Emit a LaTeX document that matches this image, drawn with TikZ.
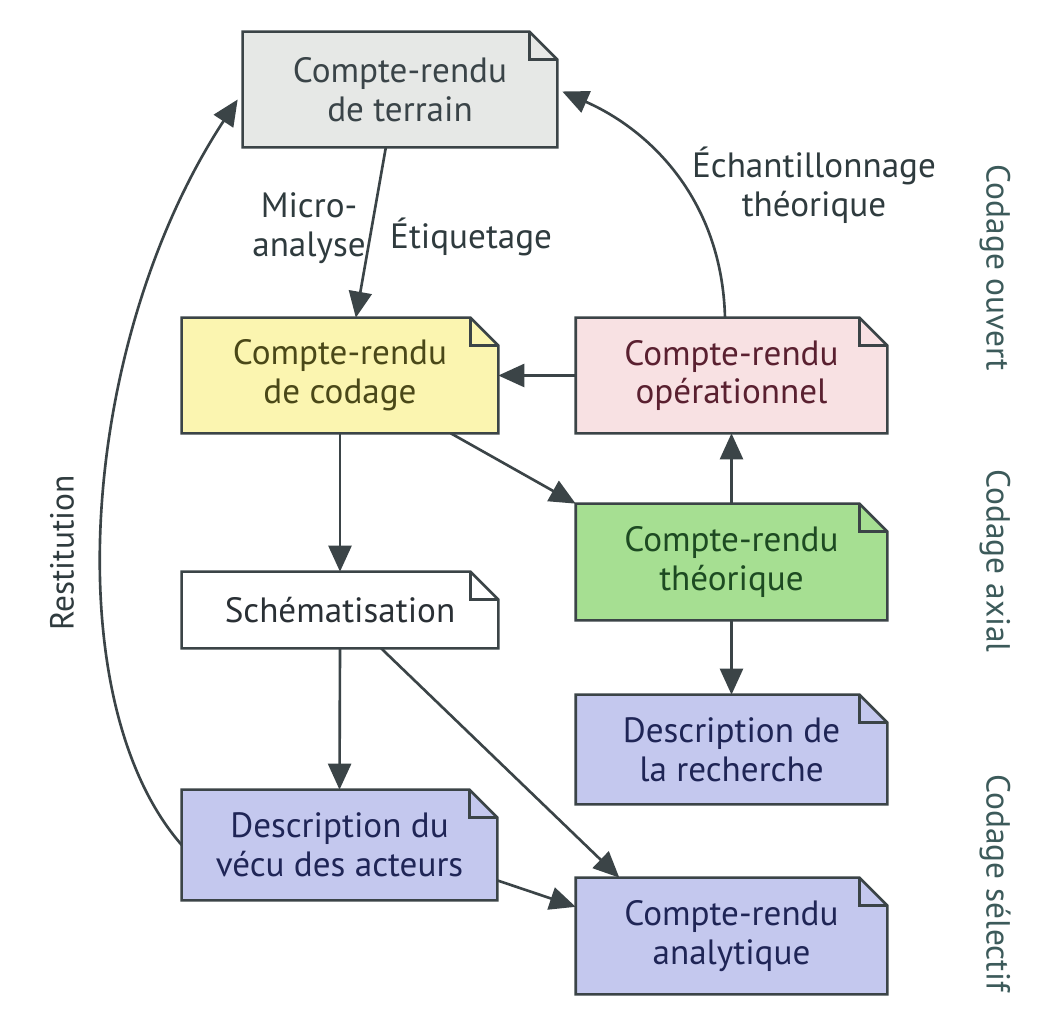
\documentclass[tikz,border=0pt]{standalone}
\usepackage{fontspec}
\setmainfont{PT Sans}
\usetikzlibrary{arrows.meta,calc}
\pgfdeclarelayer{background}
\pgfsetlayers{background,main}
\definecolor{linec}{HTML}{3B4447}
\definecolor{labc}{HTML}{2F3B3E}
\definecolor{sidec}{HTML}{3C5A5A}
\definecolor{terrfill}{HTML}{E6E8E6}
\definecolor{terrtext}{HTML}{3A4448}
\definecolor{codfill}{HTML}{FBF5B0}
\definecolor{codtext}{HTML}{4A4818}
\definecolor{opfill}{HTML}{F8E1E3}
\definecolor{optext}{HTML}{5A2030}
\definecolor{thfill}{HTML}{A6DF92}
\definecolor{thtext}{HTML}{1D4A22}
\definecolor{bluefill}{HTML}{C4C8EE}
\definecolor{bluetext}{HTML}{1F2556}
\definecolor{schtext}{HTML}{2A3035}
\newlength{\foldlen}
\setlength{\foldlen}{0.56cm}
\newcommand{\notebg}[2]{%
  \begin{pgfonlayer}{background}
  \draw[boxline,fill=#2] (#1.north west) -- ([xshift=-\foldlen]#1.north east) -- ([yshift=-\foldlen]#1.north east) -- (#1.south east) -- (#1.south west) -- cycle;
  \draw[boxline] ([xshift=-\foldlen]#1.north east) |- ([yshift=-\foldlen]#1.north east);
  \end{pgfonlayer}}
\tikzset{
  boxline/.style={draw=linec,line width=1.5pt,line join=miter},
  notebox/.style={inner sep=0pt,align=center,font=\fontsize{20}{22}\selectfont},
  conn/.style={draw=linec,line width=1.5pt,-{Triangle[length=0.52cm,width=0.46cm]}},
  lab/.style={text=labc,align=center,font=\fontsize{20}{22}\selectfont},
  side/.style={text=sidec,font=\fontsize{19}{22}\selectfont,rotate=-90},
}
\begin{document}
\begin{tikzpicture}[x=0.02cm,y=-0.02cm]
\useasboundingbox (0,0) rectangle (1046,1023);
\begin{pgfonlayer}{background}
\fill[white] (0,0) rectangle (1046,1023);
\end{pgfonlayer}
% boxes
\node[notebox,text=terrtext,minimum width=6.28cm,minimum height=2.30cm] (terrain) at (400,89.5) {Compte-rendu\\de terrain};
\node[notebox,text=codtext,minimum width=6.32cm,minimum height=2.30cm] (codage) at (340,375.5) {Compte-rendu\\de codage};
\node[notebox,text=optext,minimum width=6.22cm,minimum height=2.30cm] (oper) at (731.5,375.5) {Compte-rendu\\opérationnel};
\node[notebox,text=thtext,minimum width=6.22cm,minimum height=2.32cm] (theo) at (731.5,562) {Compte-rendu\\théorique};
\node[notebox,text=schtext,minimum width=6.32cm,minimum height=1.52cm] (schem) at (340,610) {Schématisation};
\node[notebox,text=bluetext,minimum width=6.22cm,minimum height=2.18cm] (rech) at (731.5,749.5) {Description de\\la recherche};
\node[notebox,text=bluetext,minimum width=6.30cm,minimum height=2.20cm] (vecu) at (339.5,845) {Description du\\vécu des acteurs};
\node[notebox,text=bluetext,minimum width=6.22cm,minimum height=2.32cm] (analy) at (731.5,936) {Compte-rendu\\analytique};
\notebg{terrain}{terrfill}
\notebg{codage}{codfill}
\notebg{oper}{opfill}
\notebg{theo}{thfill}
\notebg{schem}{white}
\notebg{rech}{bluefill}
\notebg{vecu}{bluefill}
\notebg{analy}{bluefill}
% connectors
\draw[conn] ($(terrain.south west)!0.455!(terrain.south east)$) -- ($(codage.north west)!0.55!(codage.north east)$);
\draw[conn] (oper.north -| 725,0) .. controls (722,200) and (650,130) .. ($(terrain.east)+(5,2)$);
\draw[conn] (oper.west) -- (codage.east);
\draw[conn] ($(codage.south west)!0.85!(codage.south east)$) -- (theo.north west);
\draw[conn] (codage.south) -- (schem.north);
\draw[conn] (theo.north) -- (oper.south);
\draw[conn] (theo.south) -- (rech.north);
\draw[conn] (schem.south) -- (vecu.north);
\draw[conn] ($(schem.south west)!0.63!(schem.south east)$) -- ($(analy.north west)!0.14!(analy.north east)$);
\draw[conn] ($(vecu.north east)!0.82!(vecu.south east)$) -- ($(analy.north west)!0.25!(analy.south west)$);
\draw[conn] ($(vecu.north west)!0.5!(vecu.south west)$) .. controls (55,700) and (80,340) .. ($(terrain.west)+(-5,10)$);
% labels
\node[lab] (micro) at (309,228) {Micro-\\analyse};
\node[lab,anchor=west] (etiq) at (384,237) {Étiquetage};
\node[lab] (echant) at (814,185) {Échantillonnage\\théorique};
\node[lab,rotate=90,font=\fontsize{19}{22}\selectfont] (restit) at (62,553) {Restitution};
\node[side] (ouvert) at (995,268) {Codage ouvert};
\node[side] (axial) at (995,561) {Codage axial};
\node[side] (selectif) at (995,883) {Codage sélectif};
\end{tikzpicture}
\end{document}
